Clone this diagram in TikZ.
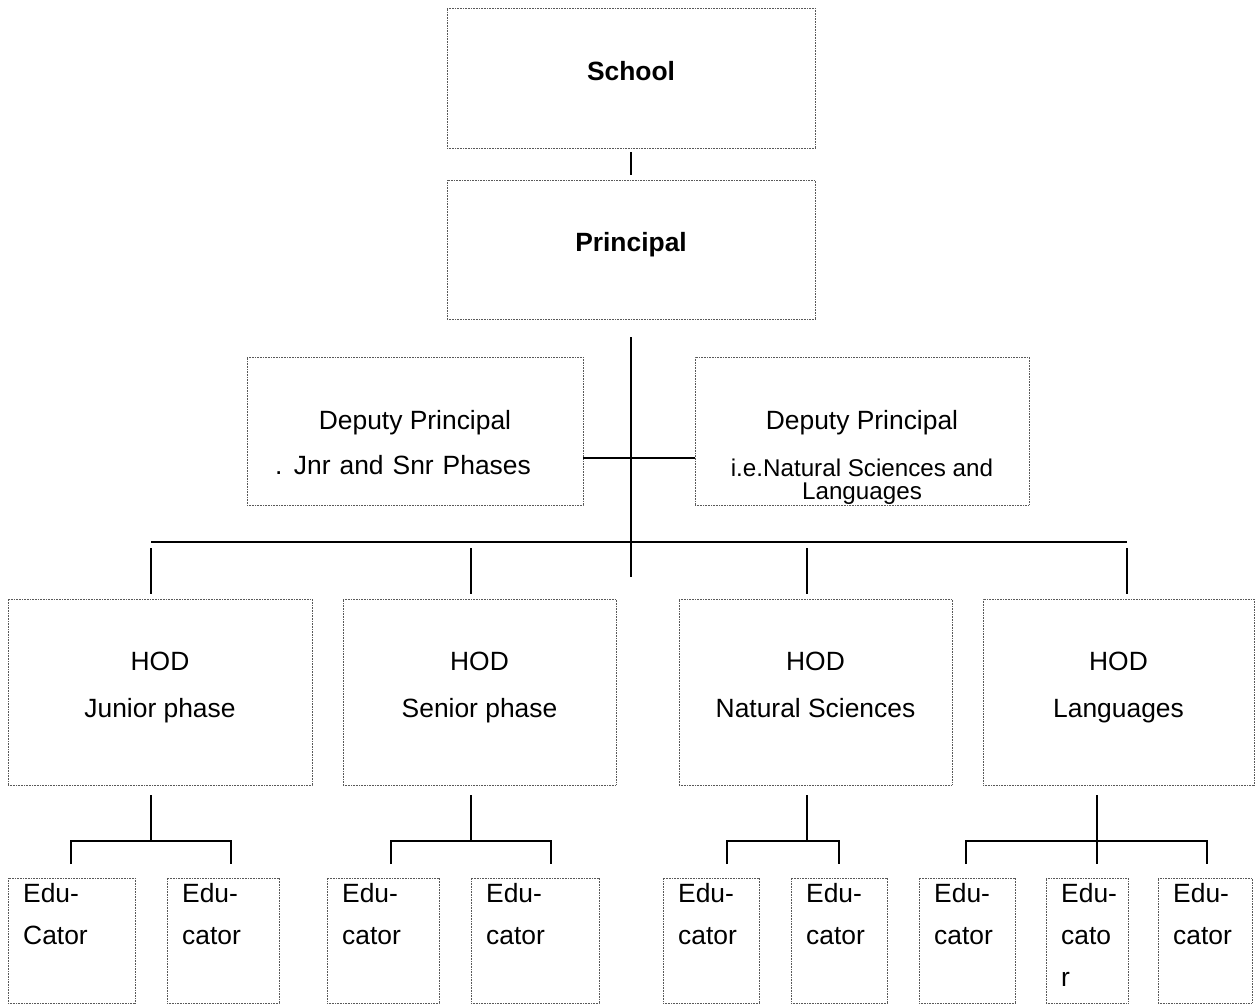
\documentclass[tikz,border=0pt]{standalone}
\usepackage{fontspec}
\setmainfont{Liberation Sans}
\usetikzlibrary{calc}
\begin{document}
\begin{tikzpicture}[x=1pt,y=-1pt,
  box/.style={draw=black!65, line width=0.8pt, dash pattern=on 0.8pt off 0.8pt,
    inner sep=0pt, outer sep=0pt, anchor=north west},
  conn/.style={line width=2pt, draw=black},
  txt/.style={font=\fontsize{26.4}{30}\selectfont, inner sep=0pt, anchor=base},
  btxt/.style={txt, font=\fontsize{26.4}{30}\selectfont\bfseries},
  stxt/.style={txt, font=\fontsize{24.2}{28}\selectfont},
  etxt/.style={txt, anchor=base west}]
\useasboundingbox (0,0) rectangle (1257,1005);

% top boxes
\node[box, minimum width=368pt, minimum height=140pt] (school) at (447,8) {};
\node[btxt] (tschool) at (631,80) {School};
\node[box, minimum width=368pt, minimum height=139pt] (principal) at (447,180) {};
\node[btxt] (tprincipal) at (631,251) {Principal};

% deputies
\node[box, minimum width=336pt, minimum height=148pt] (dl) at (247,357) {};
\node[txt] (dl1) at (415,429) {Deputy Principal};
\node[txt] (dl2) at (403,474) {\spaceskip=9pt . Jnr and Snr Phases};
\node[box, minimum width=334pt, minimum height=148pt] (dr) at (695,357) {};
\node[txt] (dr1) at (862,429) {Deputy Principal};
\node[stxt] (dr2) at (862,476) {i.e.Natural Sciences and};
\node[stxt] (dr3) at (862,499) {Languages};

% HOD boxes
\node[box, minimum width=304pt, minimum height=186pt] (hod1) at (8,599) {};
\node[box, minimum width=273pt, minimum height=186pt] (hod2) at (343,599) {};
\node[box, minimum width=273pt, minimum height=186pt] (hod3) at (679,599) {};
\node[box, minimum width=271pt, minimum height=186pt] (hod4) at (983,599) {};
\node[txt] (h1a) at (160,670) {HOD};
\node[txt] (h1b) at (160,717) {Junior phase};
\node[txt] (h2a) at (479.5,670) {HOD};
\node[txt] (h2b) at (479.5,717) {Senior phase};
\node[txt] (h3a) at (815.5,670) {HOD};
\node[txt] (h3b) at (815.5,717) {Natural Sciences};
\node[txt] (h4a) at (1118.5,670) {HOD};
\node[txt] (h4b) at (1118.5,717) {Languages};

% educator boxes
\foreach \n/\l/\w in {1/8/127, 2/167/112, 3/327/112, 4/471/128, 5/663/96, 6/791/96, 7/919/96, 8/1046/82, 9/1158/94}{
  \node[box, minimum width=\w pt, minimum height=125pt] (ed\n) at (\l,878) {};
}
\foreach \n/\l in {1/8, 2/167, 3/327, 4/471, 5/663, 6/791, 7/919, 8/1046, 9/1158}{
  \node[etxt] (ea\n) at (\l+15,902) {Edu-};
}
\node[etxt] (eb1) at (23,944) {Cator};
\foreach \n/\l in {2/167, 3/327, 4/471, 5/663, 6/791, 7/919, 9/1158}{
  \node[etxt] (eb\n) at (\l+15,944) {cator};
}
\node[etxt] (eb8) at (1061,944) {cato};
\node[etxt] (ec8) at (1061,986) {r};

% connectors top
\draw[conn] ([yshift=-4pt]school.south) -- ([yshift=5pt]principal.north);
\coordinate (cbot) at (631,577);
\draw[conn] ([yshift=-18pt]principal.south) -- (cbot);
\coordinate (dlink) at (631,458);
\draw[conn] (dl.east |- dlink) -- (dr.west |- dlink);

% bus to HODs
\coordinate (busL) at (151,542);
\coordinate (busR) at (1127,542);
\draw[conn] (busL) -- (busR);
\coordinate (d1) at (151,548);
\coordinate (d2) at (471,548);
\coordinate (d3) at (807,548);
\coordinate (d4) at (1127,548);
\foreach \i in {1,2,3,4}{
  \draw[conn] (d\i) -- ($(hod\i.north -| d\i)+(0,-5)$);
}

% HOD to educators
\coordinate (e1) at (151,841);
\coordinate (e2) at (471,841);
\coordinate (e3) at (807,841);
\coordinate (e4) at (1097,864);
\draw[conn] ($(hod1.south -| e1)+(0,10)$) -- (e1);
\draw[conn] ($(hod2.south -| e2)+(0,10)$) -- (e2);
\draw[conn] ($(hod3.south -| e3)+(0,10)$) -- (e3);
\draw[conn] ($(hod4.south -| e4)+(0,10)$) -- (e4);

\coordinate (g1L) at (71,841);  \coordinate (g1R) at (231,841);
\coordinate (g2L) at (391,841); \coordinate (g2R) at (551,841);
\coordinate (g3L) at (727,841); \coordinate (g3R) at (839,841);
\coordinate (g4L) at (966,841); \coordinate (g4R) at (1207,841);
\draw[conn] ($(ed1.north -| g1L)+(0,-14)$) -- (g1L) -- (g1R) -- ($(ed2.north -| g1R)+(0,-14)$);
\draw[conn] ($(ed3.north -| g2L)+(0,-14)$) -- (g2L) -- (g2R) -- ($(ed4.north -| g2R)+(0,-14)$);
\draw[conn] ($(ed5.north -| g3L)+(0,-14)$) -- (g3L) -- (g3R) -- ($(ed6.north -| g3R)+(0,-14)$);
\draw[conn] ($(ed7.north -| g4L)+(0,-14)$) -- (g4L) -- (g4R) -- ($(ed9.north -| g4R)+(0,-14)$);
\end{tikzpicture}
\end{document}
